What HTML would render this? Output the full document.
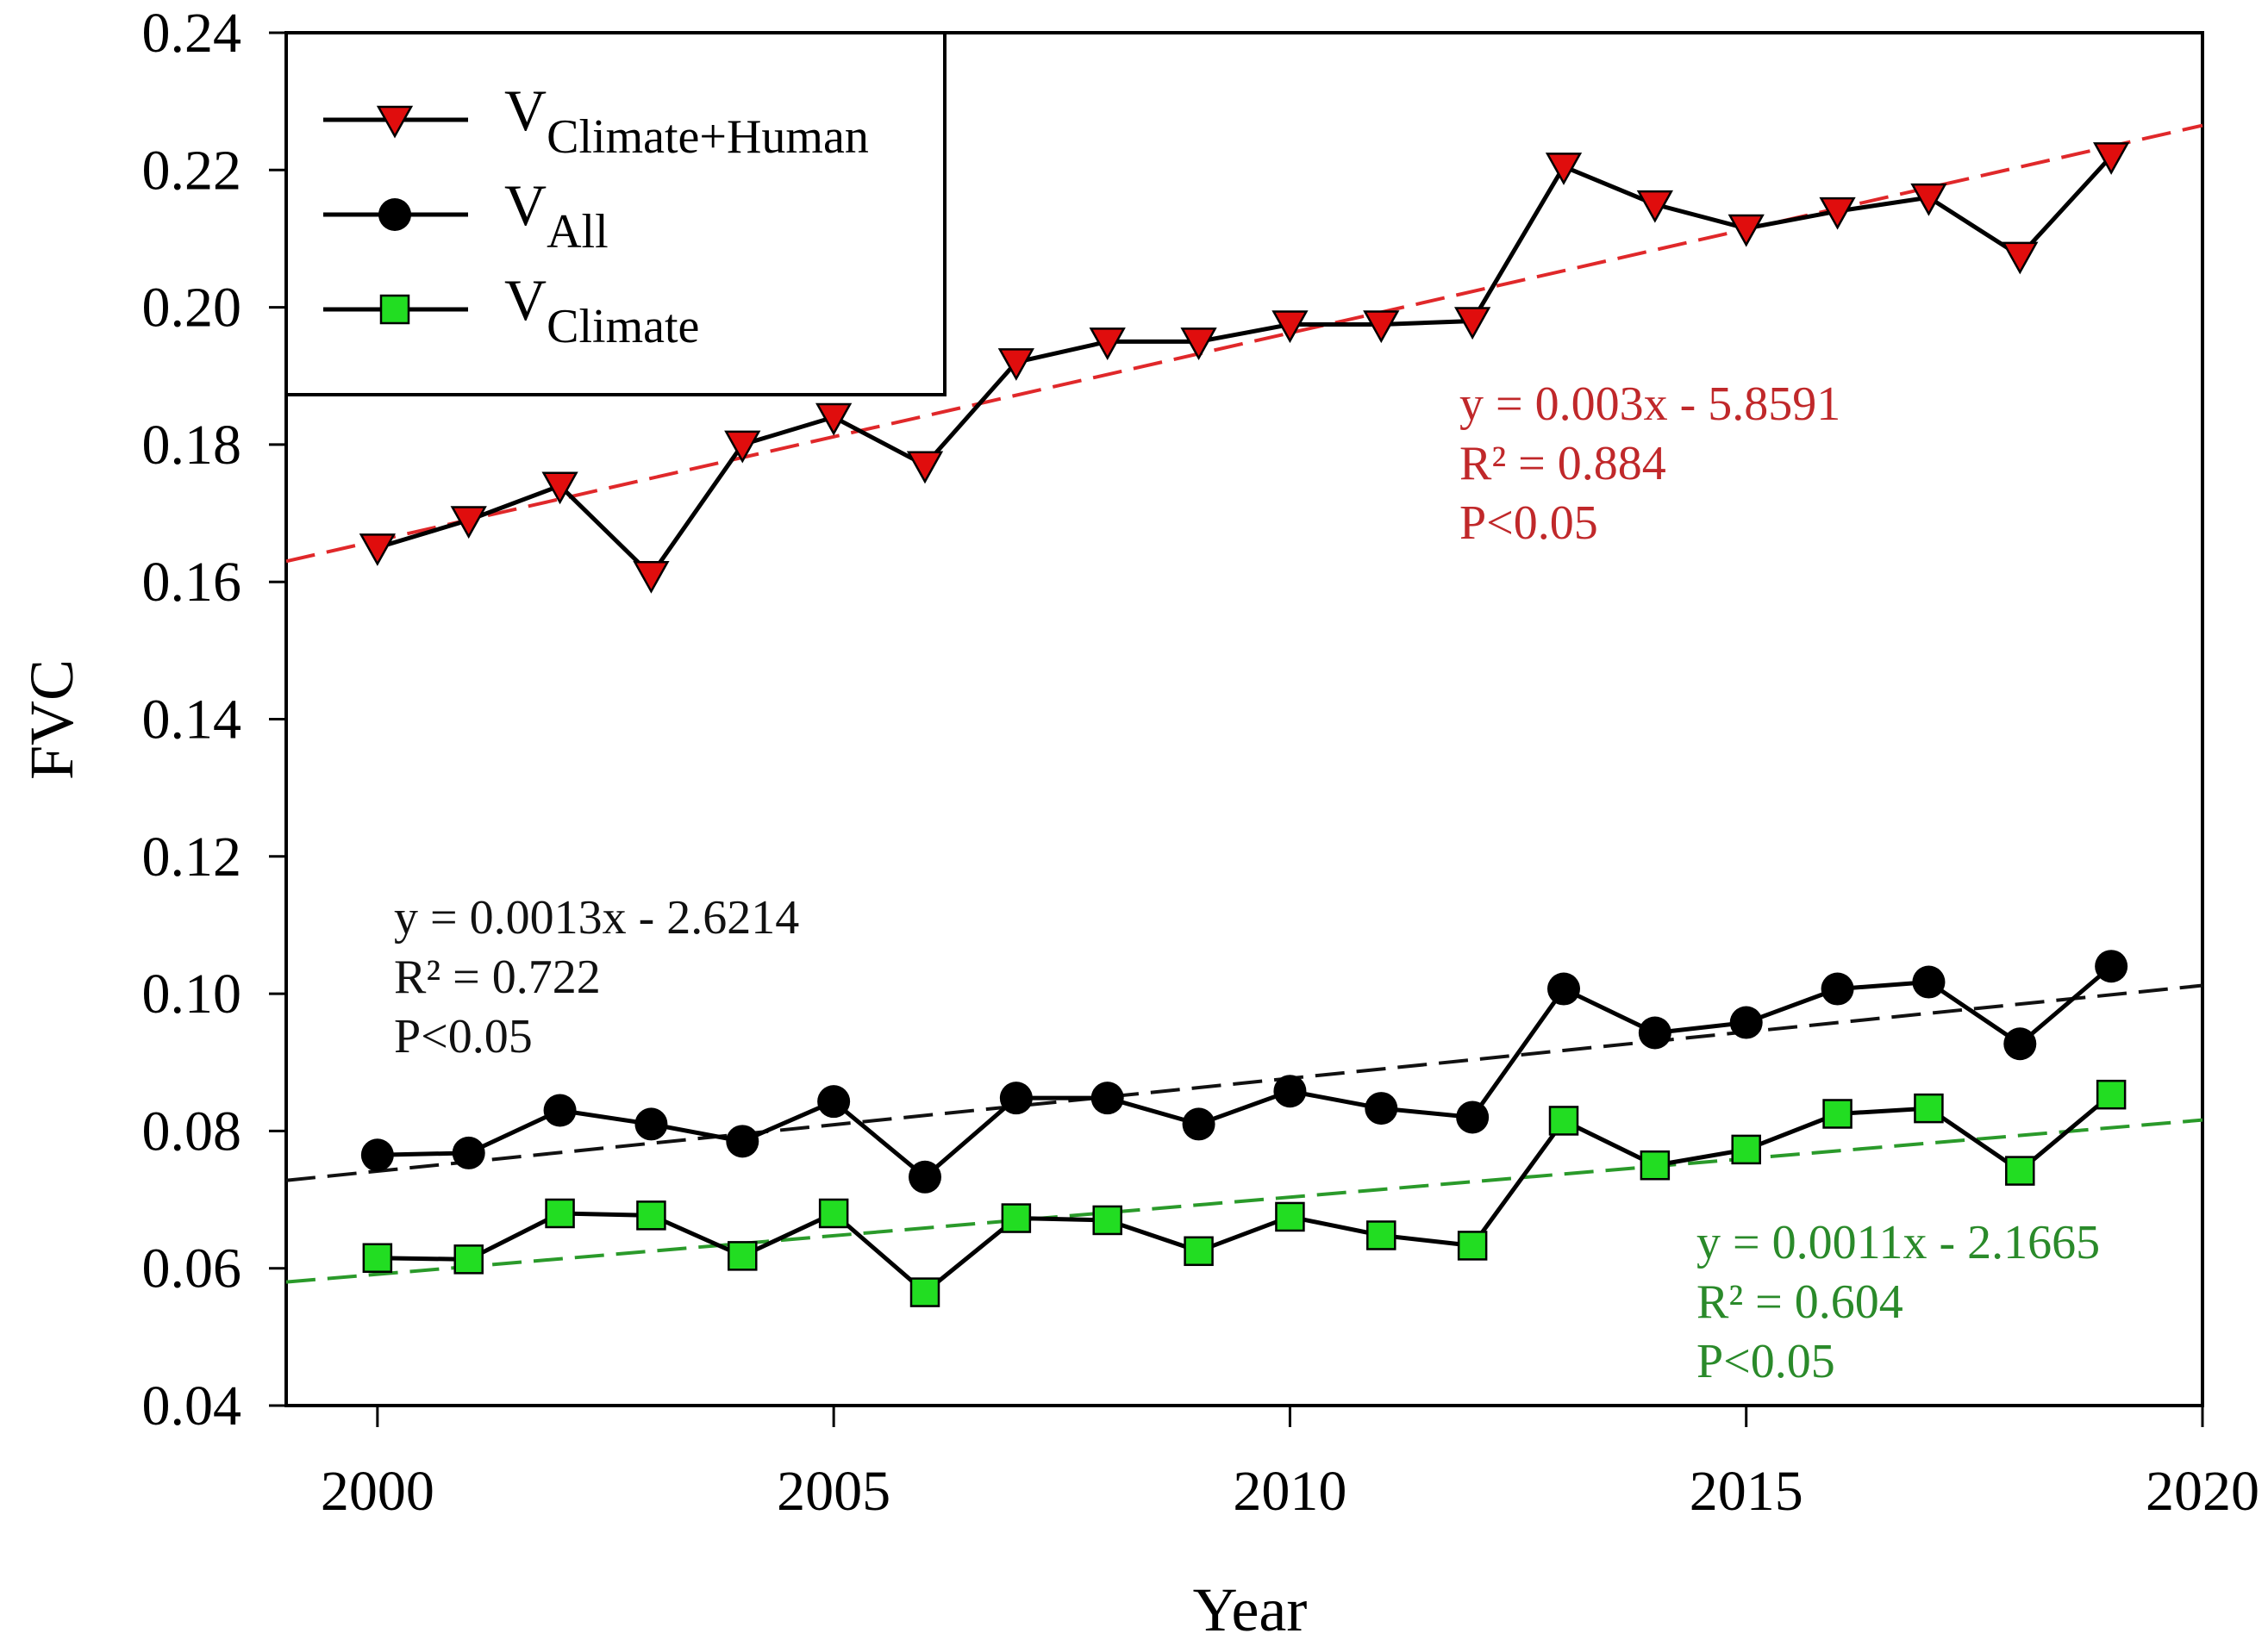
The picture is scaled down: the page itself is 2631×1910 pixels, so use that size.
<!DOCTYPE html>
<html><head><meta charset="utf-8"><style>
html,body{margin:0;padding:0;background:#fff;}
svg{display:block;font-family:"Liberation Serif",serif;}
</style></head><body>
<svg id="chart" width="2631" height="1910" viewBox="0 0 2631 1910" xmlns="http://www.w3.org/2000/svg">
<g id="plot"></g>
</svg>
<script>
const years=[2000,2001,2002,2003,2004,2005,2006,2007,2008,2009,2010,2011,2012,2013,2014,2015,2016,2017,2018,2019];
const humanVals=[0.165,0.169,0.174,0.161,0.180,0.184,0.177,0.192,0.195,0.195,0.1975,0.1975,0.198,0.2205,0.215,0.2115,0.214,0.216,0.2075,0.222];
const allVals=[0.0765,0.0768,0.083,0.081,0.0785,0.0843,0.0733,0.0848,0.0848,0.081,0.0858,0.0833,0.082,0.1007,0.0943,0.0958,0.1007,0.1017,0.0927,0.104];
const climateVals=[0.0615,0.0613,0.068,0.0677,0.0618,0.068,0.0565,0.0673,0.067,0.0625,0.0675,0.0648,0.0633,0.0815,0.075,0.0773,0.0825,0.0833,0.0742,0.0853];
const trendYears=[1999,2020];
const humanTrend=[0.163,0.2265];
const allTrend=[0.0728,0.1012];
const climateTrend=[0.058,0.0816];
const xTicks=[2000,2005,2010,2015,2020];
const yTicks=[0.04,0.06,0.08,0.10,0.12,0.14,0.16,0.18,0.20,0.22,0.24];

const X0=332,X1=2555,Y0=1631,Y1=38;
const xs=v=>X0+(v-1999)/(2020-1999)*(X1-X0);
const ys=v=>Y0-(v-0.04)/(0.24-0.04)*(Y0-Y1);
const NS="http://www.w3.org/2000/svg";
const g=document.getElementById('plot');
function mk(tag,attrs,parent){const e=document.createElementNS(NS,tag);for(const k in attrs)e.setAttribute(k,attrs[k]);(parent||g).appendChild(e);return e;}

let ax=mk('rect',{x:X0,y:Y1,width:X1-X0,height:Y0-Y1,fill:'none',stroke:'#000','stroke-width':4});


yTicks.forEach(t=>{
  const y=ys(t);
  const tk=mk('line',{x1:X0-20,x2:X0,y1:y,y2:y,stroke:'#000','stroke-width':3});
  
  
  const tx=mk('text',{x:280,y:y+22,'text-anchor':'end','font-size':66,fill:'#000'});
  tx.textContent=t.toFixed(2);
  
  
});
xTicks.forEach(t=>{
  const x=xs(t);
  const tk=mk('line',{x1:x,x2:x,y1:Y0,y2:Y0+25,stroke:'#000','stroke-width':3});
  
  
  const tx=mk('text',{x:x,y:1752,'text-anchor':'middle','font-size':66,fill:'#000'});
  tx.textContent=t;
  
  
});
let xt=mk('text',{x:1450,y:1892,'text-anchor':'middle','font-size':72});
xt.textContent='Year';


let yt=mk('text',{x:0,y:0,'text-anchor':'middle','font-size':72,transform:'translate(84,835) rotate(-90)'});
yt.textContent='FVC';



function trend(vals,color,name){
  const l=mk('line',{x1:xs(trendYears[0]),y1:ys(vals[0]),x2:xs(trendYears[1]),y2:ys(vals[1]),stroke:color,'stroke-width':4,'stroke-dasharray':'34 14'});
  
  
}
trend(humanTrend,'#e0282a','trend-climate-human');
trend(allTrend,'#111','trend-all');
trend(climateTrend,'#2a9a2a','trend-climate');

function marker(type,cx,cy,parent){
  if(type==='tri') return mk('polygon',{points:`${cx-19},${cy-15} ${cx+19},${cy-15} ${cx},${cy+19}`,fill:'#e00d0d',stroke:'#000','stroke-width':2.5},parent);
  if(type==='circ') return mk('circle',{cx:cx,cy:cy,r:19,fill:'#000'},parent);
  return mk('rect',{x:cx-16,y:cy-16,width:32,height:32,fill:'#22dd22',stroke:'#000','stroke-width':2.5},parent);
}
function series(vals,type,name){
  const pts=years.map((y,i)=>xs(y)+','+ys(vals[i])).join(' ');
  const pl=mk('polyline',{points:pts,fill:'none',stroke:'#000','stroke-width':5});
  
  
  years.forEach((y,i)=>{
    const m=marker(type,xs(y),ys(vals[i]));
    
    
  });
}
series(humanVals,'tri','climate-human');
series(allVals,'circ','all');
series(climateVals,'sq','climate');

const lg=mk('g',{});


mk('rect',{x:332,y:38,width:764,height:420,fill:'#fff',stroke:'#000','stroke-width':4},lg);
const legItems=[['tri','Climate+Human',139],['circ','All',249],['sq','Climate',359]];
legItems.forEach(it=>{
  const e=mk('g',{},lg);
  
  
  mk('line',{x1:375,x2:543,y1:it[2],y2:it[2],stroke:'#000','stroke-width':5},e);
  marker(it[0],458,it[2],e);
  const t=mk('text',{x:585,y:it[2]+12,'font-size':68},e);
  t.innerHTML='V<tspan font-size="56" dy="26">'+it[1]+'</tspan>';
});

function ann(x,y0,lines,color,name){
  const t=mk('g',{});
  
  
  lines.forEach((s,i)=>{const e=mk('text',{x:x,y:y0+i*69,'font-size':56,fill:color},t);e.textContent=s;});
}
ann(1693,487,['y = 0.003x - 5.8591','R² = 0.884','P<0.05'],'#c0282a','annotation-climate-human');
ann(457,1083,['y = 0.0013x - 2.6214','R² = 0.722','P<0.05'],'#111','annotation-all');
ann(1968,1460,['y = 0.0011x - 2.1665','R² = 0.604','P<0.05'],'#2a8a2a','annotation-climate');
</script>
</body></html>
